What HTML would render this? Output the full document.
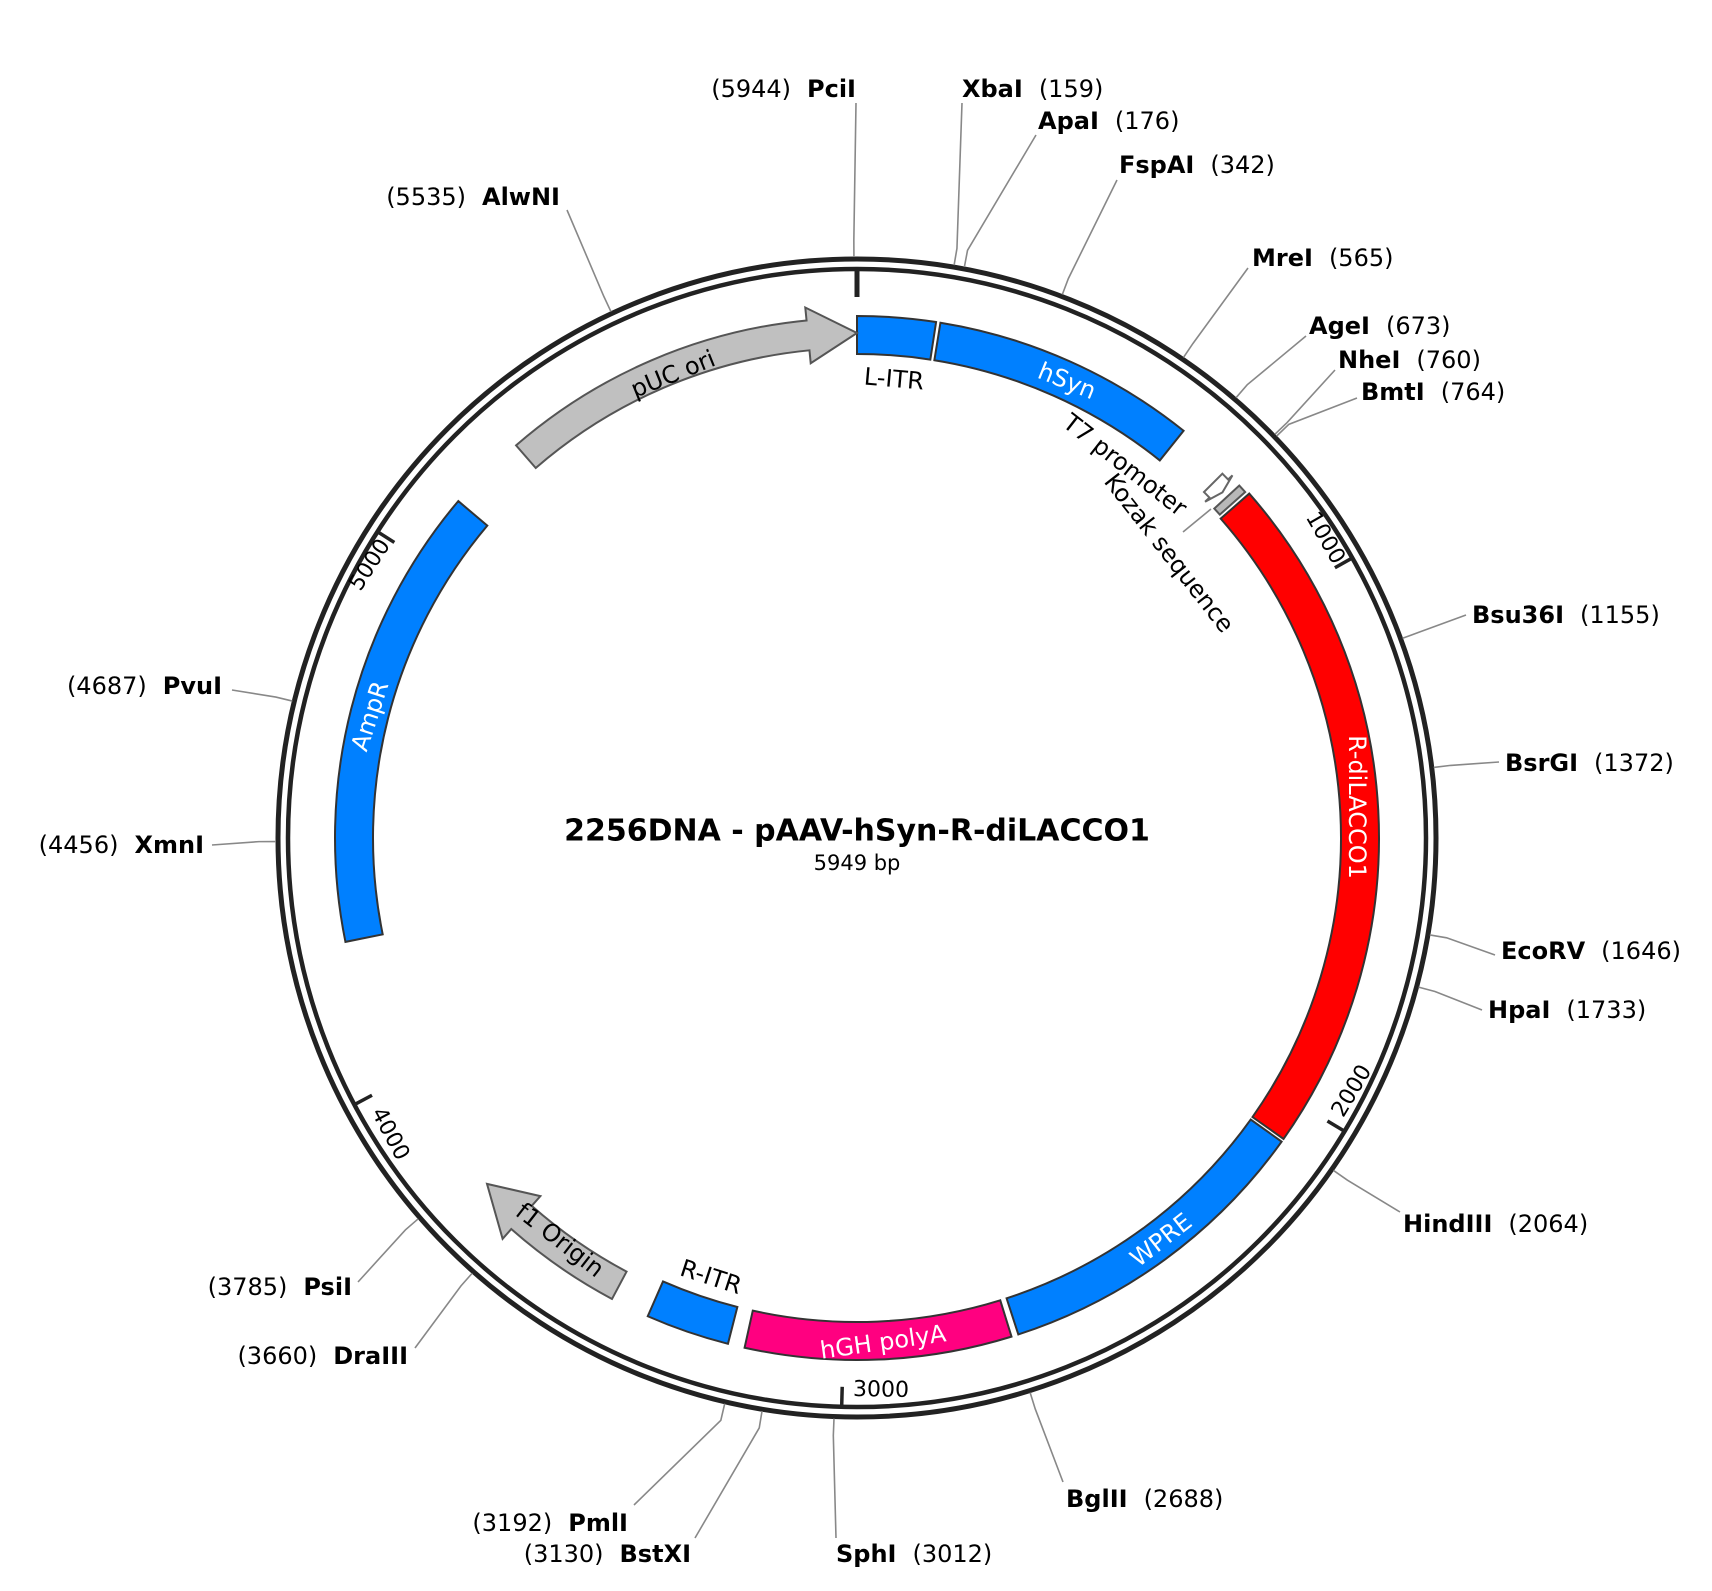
<!DOCTYPE html>
<html><head><meta charset="utf-8"><style>
html,body{margin:0;padding:0;background:#fff;}
svg{display:block;}
text{font-family:"DejaVu Sans","Liberation Sans",sans-serif;}
.b{font-weight:bold;}
.lab{font-size:24px;fill:#000;}
.ft{font-size:24px;}
</style></head><body>
<svg id="s" width="1712" height="1591" viewBox="0 0 1712 1591" xmlns="http://www.w3.org/2000/svg">
<g id="shapes"></g>
<text x="857" y="831" text-anchor="middle" dominant-baseline="central" class="b" font-size="30">2256DNA - pAAV-hSyn-R-diLACCO1</text>
<text x="857" y="863" text-anchor="middle" dominant-baseline="central" font-size="21">5949 bp</text>
<g font-size="22" fill="#000" dominant-baseline="central" text-anchor="middle">
<text transform="translate(1325,538) rotate(60)">1000</text>
<text transform="translate(1352,1091) rotate(-59)">2000</text>
<text transform="translate(881,1390) rotate(1)">3000</text>
<text transform="translate(390,1134) rotate(62)">4000</text>
<text transform="translate(370,565) rotate(-57)">5000</text>
</g>
<g class="ft" dominant-baseline="central" text-anchor="middle">
<text transform="translate(1067,381) rotate(22)" fill="#fff">hSyn</text>
<text transform="translate(894,379) rotate(5)" fill="#000">L-ITR</text>
<text transform="translate(673,374) rotate(-22)" fill="#000">pUC ori</text>
<text transform="translate(1125,465) rotate(38)" fill="#000">T7 promoter</text>
<text transform="translate(1169,553) rotate(52)" fill="#000">Kozak sequence</text>
<text transform="translate(1357,807) rotate(90)" fill="#fff">R-diLACCO1</text>
<text transform="translate(1161,1240) rotate(-38)" fill="#fff">WPRE</text>
<text transform="translate(883,1342) rotate(-8)" fill="#fff">hGH polyA</text>
<text transform="translate(711,1277) rotate(18)" fill="#000">R-ITR</text>
<text transform="translate(560,1240) rotate(38)" fill="#000">f1 Origin</text>
<text transform="translate(370,716) rotate(-72)" fill="#fff">AmpR</text>
</g>
<g class="lab" dominant-baseline="central">
<text x="856" y="89" text-anchor="end">(5944)<tspan class="b" dx="16">PciI</tspan></text>
<text x="962" y="89"><tspan class="b">XbaI</tspan><tspan dx="16">(159)</tspan></text>
<text x="1038" y="121"><tspan class="b">ApaI</tspan><tspan dx="16">(176)</tspan></text>
<text x="1119" y="165"><tspan class="b">FspAI</tspan><tspan dx="16">(342)</tspan></text>
<text x="1252" y="258"><tspan class="b">MreI</tspan><tspan dx="16">(565)</tspan></text>
<text x="1309" y="326"><tspan class="b">AgeI</tspan><tspan dx="16">(673)</tspan></text>
<text x="1338" y="360"><tspan class="b">NheI</tspan><tspan dx="16">(760)</tspan></text>
<text x="1361" y="392"><tspan class="b">BmtI</tspan><tspan dx="16">(764)</tspan></text>
<text x="1472" y="615"><tspan class="b">Bsu36I</tspan><tspan dx="16">(1155)</tspan></text>
<text x="1505" y="763"><tspan class="b">BsrGI</tspan><tspan dx="16">(1372)</tspan></text>
<text x="1501" y="951"><tspan class="b">EcoRV</tspan><tspan dx="16">(1646)</tspan></text>
<text x="1488" y="1010"><tspan class="b">HpaI</tspan><tspan dx="16">(1733)</tspan></text>
<text x="1403" y="1224"><tspan class="b">HindIII</tspan><tspan dx="16">(2064)</tspan></text>
<text x="1066" y="1499"><tspan class="b">BglII</tspan><tspan dx="16">(2688)</tspan></text>
<text x="836" y="1554"><tspan class="b">SphI</tspan><tspan dx="16">(3012)</tspan></text>
<text x="691" y="1554" text-anchor="end">(3130)<tspan class="b" dx="16">BstXI</tspan></text>
<text x="628" y="1523" text-anchor="end">(3192)<tspan class="b" dx="16">PmlI</tspan></text>
<text x="408" y="1356" text-anchor="end">(3660)<tspan class="b" dx="16">DraIII</tspan></text>
<text x="352" y="1287" text-anchor="end">(3785)<tspan class="b" dx="16">PsiI</tspan></text>
<text x="204" y="845" text-anchor="end">(4456)<tspan class="b" dx="16">XmnI</tspan></text>
<text x="222" y="686" text-anchor="end">(4687)<tspan class="b" dx="16">PvuI</tspan></text>
<text x="560" y="197" text-anchor="end">(5535)<tspan class="b" dx="16">AlwNI</tspan></text>
</g>
</svg>
<script>
(function(){
var NS="http://www.w3.org/2000/svg",g=document.getElementById("shapes");
var cx=857,cy=838,N=5949;
function P(r,p){var a=p/N*2*Math.PI;return [cx+r*Math.sin(a),cy-r*Math.cos(a)];}
function f(x){return x[0].toFixed(2)+","+x[1].toFixed(2);}
function el(t,at){var e=document.createElementNS(NS,t);for(var k in at)e.setAttribute(k,at[k]);g.appendChild(e);return e;}
function arc(r,p1,p2,sw){var la=(Math.abs(p2-p1)/N*360)>180?1:0;return "A"+r+","+r+" 0 "+la+","+sw+" "+f(P(r,p2));}
function box(p1,p2,r1,r2,fill,st){
 var d="M"+f(P(r2,p1))+arc(r2,p1,p2,1)+"L"+f(P(r1,p2))+arc(r1,p2,p1,0)+"Z";
 el("path",{d:d,fill:fill,stroke:st||"#333","stroke-width":2});}
function arrowCW(p1,p2,h,r1,r2,hr1,hr2,fill,st){
 var pb=p2-h,rm=(r1+r2)/2;
 var d="M"+f(P(r2,p1))+arc(r2,p1,pb,1)+"L"+f(P(hr2,pb))+"L"+f(P(rm,p2))+"L"+f(P(hr1,pb))+"L"+f(P(r1,pb))+arc(r1,pb,p1,0)+"Z";
 el("path",{d:d,fill:fill,stroke:st||"#555","stroke-width":2});}
el("circle",{cx:cx,cy:cy,r:579,fill:"none",stroke:"#222","stroke-width":5});
el("circle",{cx:cx,cy:cy,r:569,fill:"none",stroke:"#222","stroke-width":4.5});
var a=P(541,0),b=P(568,0);el("line",{x1:a[0],y1:a[1],x2:b[0],y2:b[1],stroke:"#222","stroke-width":5});
[1000,2000,3000,4000,5000].forEach(function(p){var a=P(549,p),b=P(568,p);el("line",{x1:a[0],y1:a[1],x2:b[0],y2:b[1],stroke:"#222","stroke-width":3.5});});
box(0,144,484,522,"#0080FF");
box(152,640,484,522,"#0080FF");
box(805,2069,484,522,"#FF0000");
box(782,798,486,520,"#B8B8B8","#555");
arrowCW(745,770,10,490,516,484,522,"#fff","#666");
box(2075,2677,484,522,"#0080FF");
box(2690,3180,484,522,"#FF0080");
box(3211,3365,484,522,"#0080FF");
box(4272,5126,484,522,"#0080FF");
arrowCW(5272,5949,92,490,520,477,533,"#C0C0C0");
arrowCW(3437,3750,90,491,522,478,535,"#C0C0C0");
var sites=[[5944,856,103],[159,962,103],[176,1036,135],[342,1117,180],[565,1248,268],[673,1306,336],[760,1335,370],[764,1357,398],[1155,1466,615],[1372,1499,762],[1646,1495,955],[1733,1482,1010],[2064,1400,1212],[2688,1063,1482],[3012,836,1538],[3130,695,1538],[3192,634,1505],[3660,415,1348],[3785,358,1282],[4456,212,845],[4687,232,690],[5535,567,210]];
sites.forEach(function(s){var a=P(581,s[0]),b=P(598,s[0]);
 el("polyline",{points:f(a)+" "+f(b)+" "+s[1]+","+s[2],fill:"none",stroke:"#888","stroke-width":1.6});});
el("line",{x1:1183,y1:532,x2:1211,y2:509,stroke:"#888","stroke-width":1.6});
})();
</script>
</body></html>
